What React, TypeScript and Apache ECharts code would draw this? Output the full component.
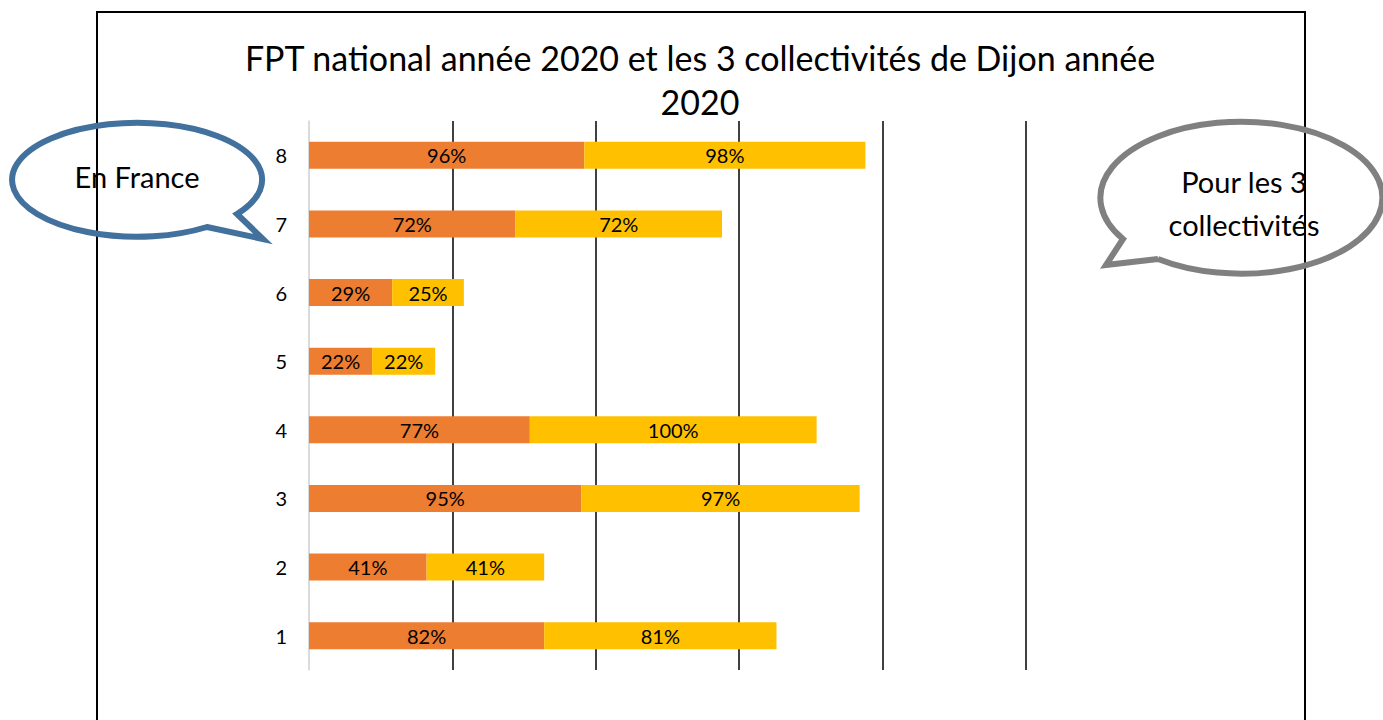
import React, { useEffect, useRef } from "react";
import * as echarts from "echarts";

const categories = ["1", "2", "3", "4", "5", "6", "7", "8"];
const franceValues = [82, 41, 95, 77, 22, 29, 72, 96];
const collectivitesValues = [81, 41, 97, 100, 22, 25, 72, 98];
const titleLines = ["FPT national année 2020 et les 3 collectivités de Dijon année", "2020"];
const leftBubbleText = "En France";
const rightBubbleLines = ["Pour les 3", "collectivités"];

const FONT = "Lato, 'Noto Sans', sans-serif";

let registered = false;
function registerShapes() {
  if (registered) return;
  registered = true;
  const leftD =
    "M 207 227 L 263 239 L 237 214 A 125 57 0 1 0 207 227 Z";
  const rightD =
    "M 1158 259 L 1106 265 L 1123 239 A 141 76 0 1 1 1158 259 Z";
  echarts.graphic.registerShape("bubbleLeft", echarts.graphic.extendPath(leftD, {}));
  echarts.graphic.registerShape("bubbleRight", echarts.graphic.extendPath(rightD, {}));
}

export default function App() {
  const ref = useRef<HTMLDivElement>(null);
  useEffect(() => {
    registerShapes();
    const chart = echarts.init(ref.current!, null, { renderer: "svg" });
    const labelCfg = {
      show: true,
      position: "inside",
      color: "#000",
      fontSize: 20,
      fontFamily: FONT,
      formatter: (p: any) => `${p.value}%`,
    };
    const centered = (text: string, x: number, y: number, size: number) => ({
      type: "text",
      x,
      y,
      z: 12,
      style: {
        text,
        fill: "#000",
        font: `${size}px ${FONT}`,
        textAlign: "center",
        textVerticalAlign: "middle",
      },
    });
    chart.setOption({
      animation: false,
      backgroundColor: "#fff",
      grid: { left: 309, right: 357, top: 121, bottom: 50, containLabel: false },
      xAxis: {
        type: "value",
        min: 0,
        max: 250,
        interval: 50,
        axisLabel: { show: false },
        axisLine: { show: false },
        axisTick: { show: false },
        splitLine: {
          show: true,
          lineStyle: {
            color: ["#d9d9d9", "#000", "#000", "#000", "#000", "#000"],
            width: 1.5,
          },
        },
      },
      yAxis: {
        type: "category",
        data: categories,
        axisLine: { show: true, lineStyle: { color: "#d9d9d9", width: 1.5 } },
        axisTick: { show: false },
        axisLabel: { color: "#000", fontSize: 20, fontFamily: FONT, margin: 22 },
      },
      series: [
        {
          name: "France",
          type: "bar",
          stack: "total",
          barWidth: 27,
          data: franceValues,
          itemStyle: { color: "#ED7D31" },
          label: labelCfg,
        },
        {
          name: "Collectivités",
          type: "bar",
          stack: "total",
          barWidth: 27,
          data: collectivitesValues,
          itemStyle: { color: "#FFC000" },
          label: labelCfg,
        },
      ],
      graphic: [
        {
          type: "rect",
          shape: { x: 97, y: 12, width: 1208, height: 730 },
          style: { fill: "none", stroke: "#000", lineWidth: 2 },
          z: 10,
        },
        centered(titleLines[0], 700, 57, 34),
        centered(titleLines[1], 700, 101, 34),
        {
          type: "bubbleLeft",
          x: 0,
          y: 0,
          style: { fill: "none", stroke: "#41719C", lineWidth: 6, lineJoin: "miter" },
          z: 11,
        },
        centered(leftBubbleText, 137, 176, 29),
        {
          type: "bubbleRight",
          x: 0,
          y: 0,
          style: { fill: "none", stroke: "#808080", lineWidth: 6, lineJoin: "miter" },
          z: 11,
        },
        centered(rightBubbleLines[0], 1244, 181, 29),
        centered(rightBubbleLines[1], 1244, 224, 29),
      ],
    });
    return () => chart.dispose();
  }, []);
  return (
    <div
      ref={ref}
      style={{ position: "fixed", left: 0, top: 0, width: 1383, height: 720 }}
    />
  );
}
